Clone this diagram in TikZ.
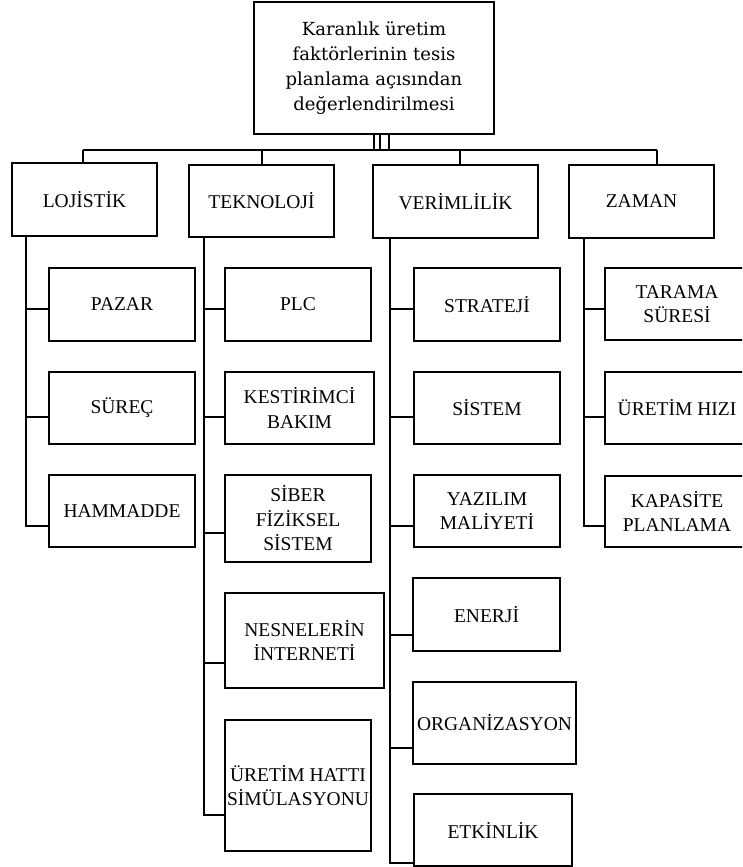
\documentclass[tikz,border=0pt]{standalone}
\usepackage{fontspec}
\setmainfont{Liberation Serif}
\newfontfamily\topfont{DejaVu Serif}
\newcommand\bx[6]{\node[box, minimum width={#4-#2}, minimum height={#5-#3}] (#1) at ({(#2+#4)/2},{(#3+#5)/2}) {#6};}
\newcommand\br[4]{\draw[conn] (#1.south -| #2,0) |- (#3.west |- 0,#4);}
\begin{document}
\begin{tikzpicture}[x=1pt,y=-1pt,
  box/.style={draw, line width=2.8pt, rectangle, inner sep=0pt, align=center, font=\fontsize{19.5}{24.5}\selectfont},
  conn/.style={line width=2.8pt}]
\useasboundingbox (0,0) rectangle (742,867);
\clip (0,0) rectangle (742,867);
\fill[white] (0,0) rectangle (742,867);
% top
\node[box, minimum width=240, minimum height=132, font=\topfont\fontsize{18}{25}\selectfont] (top) at (374,68)
  {Karanlık üretim\\faktörlerinin tesis\\planlama açısından\\değerlendirilmesi};
% level 1
\bx{L1}{12}{163}{157}{236}{LOJİSTİK}
\bx{L2}{189}{165}{334}{237}{TEKNOLOJİ}
\bx{L3}{373}{165}{538}{238}{VERİMLİLİK}
\bx{L4}{569}{165}{714}{238}{ZAMAN}
% trunk and bar
\coordinate (t1) at (374,150);
\coordinate (t2) at (380,150);
\coordinate (t3) at (389,150);
\coordinate (d1) at (83,150);
\coordinate (d2) at (262,150);
\coordinate (d3) at (460,150);
\coordinate (d4) at (657,150);
\draw[line width=2pt] (t1) -- (t1 |- top.south);
\draw[line width=2pt] (t2) -- (t2 |- top.south);
\draw[line width=2pt] (t3) -- (t3 |- top.south);
\draw[conn] (d1) -- (d4);
\draw[conn] (d1) -- (d1 |- L1.north);
\draw[conn] (d2) -- (d2 |- L2.north);
\draw[conn] (d3) -- (d3 |- L3.north);
\draw[conn] (d4) -- (d4 |- L4.north);
% column 1
\bx{P1}{49}{268}{195}{341}{PAZAR}
\bx{P2}{49}{372}{195}{444}{SÜREÇ}
\bx{P3}{49}{475}{195}{547}{HAMMADDE}
\br{L1}{26}{P1}{309}
\br{L1}{26}{P2}{417}
\br{L1}{26}{P3}{526}
% column 2
\bx{T1}{225}{268}{371}{341}{PLC}
\bx{T2}{225}{372}{374}{444}{KESTİRİMCİ\\BAKIM}
\bx{T3}{225}{475}{371}{562}{SİBER\\FİZİKSEL\\SİSTEM}
\bx{T4}{225}{593}{384}{688}{NESNELERİN\\İNTERNETİ}
\bx{T5}{225}{720}{371}{851}{ÜRETİM HATTI\\SİMÜLASYONU}
\br{L2}{204}{T1}{309}
\br{L2}{204}{T2}{417}
\br{L2}{204}{T3}{533}
\br{L2}{204}{T4}{663}
\br{L2}{204}{T5}{815}
% column 3
\bx{V1}{414}{268}{560}{341}{STRATEJİ}
\bx{V2}{414}{372}{560}{444}{SİSTEM}
\bx{V3}{414}{475}{560}{547}{YAZILIM\\MALİYETİ}
\bx{V4}{413}{578}{560}{651}{ENERJİ}
\bx{V5}{413}{682}{576}{764}{ORGANİZASYON}
\bx{V6}{414}{794}{572}{866}{ETKİNLİK}
\br{L3}{390}{V1}{309}
\br{L3}{390}{V2}{417}
\br{L3}{390}{V3}{526}
\br{L3}{390}{V4}{635}
\br{L3}{390}{V5}{748}
\br{L3}{390}{V6}{863}
% column 4
\bx{Z1}{605}{268}{749}{340}{TARAMA\\SÜRESİ}
\bx{Z2}{605}{372}{749}{444}{ÜRETİM HIZI}
\bx{Z3}{605}{476}{749}{547}{KAPASİTE\\PLANLAMA}
\br{L4}{584}{Z1}{309}
\br{L4}{584}{Z2}{417}
\br{L4}{584}{Z3}{526}
\end{tikzpicture}
\end{document}
